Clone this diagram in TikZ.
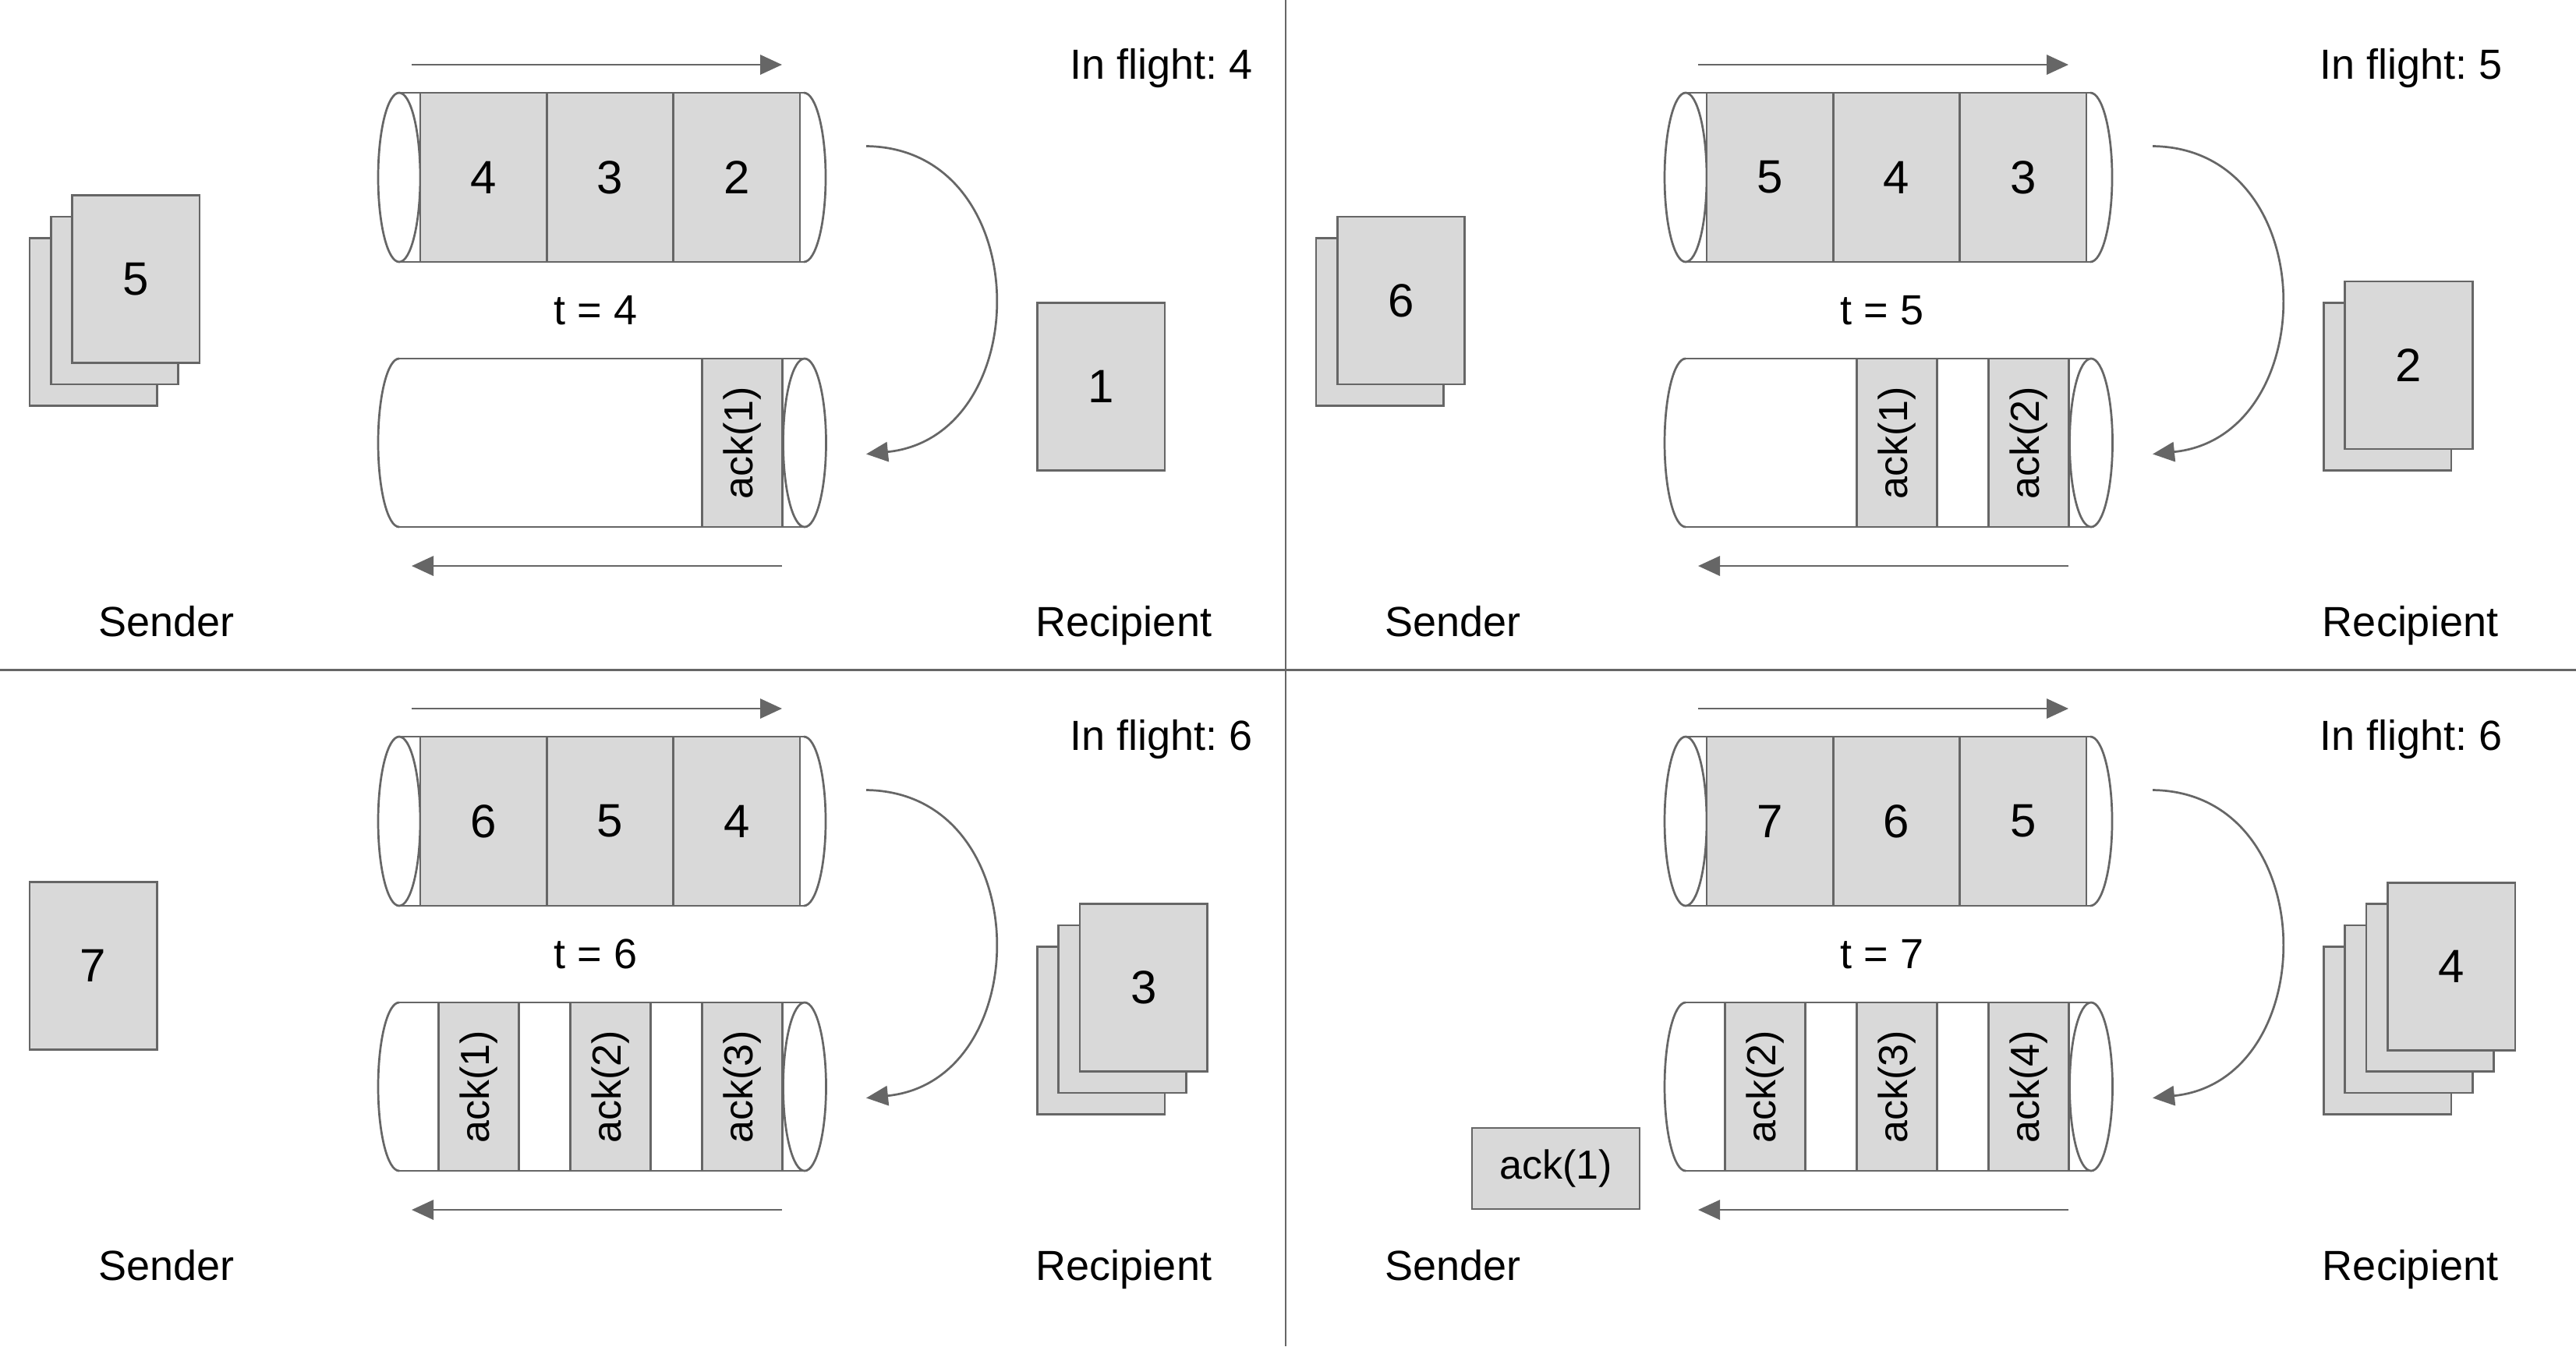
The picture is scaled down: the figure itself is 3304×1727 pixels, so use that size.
\documentclass[tikz,border=0pt]{standalone}
\usepackage{fontspec}
\setmainfont{Liberation Sans}
\frenchspacing
\usetikzlibrary{arrows.meta}
\definecolor{lineGray}{HTML}{666666}
\definecolor{fillGray}{HTML}{D9D9D9}
\tikzset{
  outl/.style={draw=lineGray, line width=0.68pt},
  flow/.style={draw=lineGray, line width=0.68pt, -{Triangle[length=7pt,width=6.3pt]}},
  sepline/.style={draw=lineGray, line width=0.68pt},
  paper/.style={outl, fill=fillGray, minimum width=40.9pt, minimum height=53.75pt, inner sep=0pt, anchor=north west, font=\fontsize{15}{18}\selectfont},
  cell/.style={outl, fill=fillGray, minimum width=40.6pt, minimum height=54.25pt, inner sep=0pt, font=\fontsize{15}{18}\selectfont},
  ackcell/.style={outl, fill=fillGray, minimum width=54pt, minimum height=25.75pt, inner sep=0pt, rotate=90, font=\fontsize{13}{16}\selectfont},
  ackout/.style={outl, fill=fillGray, minimum width=53.75pt, minimum height=26pt, inner sep=0pt, font=\fontsize{13}{16}\selectfont},
  lbl/.style={inner sep=0pt, anchor=base, font=\fontsize{13.5}{16}\selectfont},
  flightlbl/.style={inner sep=0pt, anchor=base east, font=\fontsize{13.5}{16}\selectfont},
}
\newcommand\PaperStack[5]{%
  \foreach \k in {1,...,#4}{%
    \pgfmathsetmacro\px{#2+27.3*(\k-1)}%
    \pgfmathsetmacro\py{#3-27.3*(\k-1)}%
    \ifnum\k=#4\relax
      \node[paper] (#1\k) at (\px,\py) {#5};
    \else
      \node[paper] (#1\k) at (\px,\py) {};
    \fi
  }%
}
\newcommand\PipePair[4]{%
  \coordinate (topA) at (528,83);
  \coordinate (topB) at (1003,83);
  \draw[flow] (topA) -- (topB);
  \draw[outl] (512,119) -- (1031,119);
  \draw[outl] (512,336) -- (1031,336);
  \draw[outl] (1031,119) arc[start angle=90, end angle=-90, x radius=7pt, y radius=27.125pt];
  \draw[outl, fill=white] (512,227.5) ellipse [x radius=6.75pt, y radius=27.125pt];
  \node[cell] (c1) at (620.2,227.5) {#1};
  \node[cell] (c2) at (782.5,227.5) {#2};
  \node[cell] (c3) at (944.8,227.5) {#3};
  \node[lbl] (time) at (764,416.7) {t = #4};
  \draw[outl] (512,460) arc[start angle=90, end angle=270, x radius=6.75pt, y radius=27pt];
  \draw[outl] (512,460) -- (1032,460);
  \draw[outl] (512,676) -- (1032,676);
  \coordinate (botA) at (1003,726);
  \coordinate (botB) at (528,726);
  \draw[flow] (botA) -- (botB);
  \coordinate (loopA) at (1111,187.5);
  \coordinate (loopB) at (1111,582.5);
  \draw[flow] (loopA) .. controls (1330,190) and (1330,560) .. (loopB);
  \node[lbl] (snd) at (213.3,816) {Sender};
  \node[lbl] (rcp) at (1441.5,816) {Recipient};
}
\newcommand\PipeEnd{\draw[outl, fill=white] (1032,568) ellipse [x radius=6.875pt, y radius=27pt];}
\begin{document}
\begin{tikzpicture}[x=0.25pt, y=-0.25pt]
\useasboundingbox (0,0) rectangle (3304,1727);
\fill[white] (0,0) rectangle (3304,1727);
\coordinate (hA) at (0,859.5);
\coordinate (hB) at (3304,859.5);
\coordinate (vA) at (1649,0);
\coordinate (vB) at (1649,1727);
\draw[sepline] (hA) -- (hB);
\draw[sepline] (vA) -- (vB);

\begin{scope}[name prefix=q1-]
  \PipePair{4}{3}{2}{4}
  \node[ackcell] (k1) at (952,568) {ack(1)};
  \PipeEnd
  \PaperStack{s}{36.5}{304}{3}{5}
  \PaperStack{r}{1329}{387}{1}{1}
\end{scope}

\begin{scope}[shift={(1650,0)}, name prefix=q2-]
  \PipePair{5}{4}{3}{5}
  \node[ackcell] (k1) at (783,568) {ack(1)};
  \node[ackcell] (k2) at (952,568) {ack(2)};
  \PipeEnd
  \PaperStack{s}{36.5}{304}{2}{6}
  \PaperStack{r}{1329}{387}{2}{2}
\end{scope}

\begin{scope}[shift={(0,826)}, name prefix=q3-]
  \PipePair{6}{5}{4}{6}
  \node[ackcell] (k1) at (614,568) {ack(1)};
  \node[ackcell] (k2) at (783,568) {ack(2)};
  \node[ackcell] (k3) at (952,568) {ack(3)};
  \PipeEnd
  \PaperStack{s}{36.5}{304}{1}{7}
  \PaperStack{r}{1329}{387}{3}{3}
\end{scope}

\begin{scope}[shift={(1650,826)}, name prefix=q4-]
  \PipePair{7}{6}{5}{7}
  \node[ackcell] (k2) at (614,568) {ack(2)};
  \node[ackcell] (k3) at (783,568) {ack(3)};
  \node[ackcell] (k4) at (952,568) {ack(4)};
  \PipeEnd
  \node[ackout] (k1) at (345.5,673) {ack(1)};
  \PaperStack{r}{1329}{387}{4}{4}
\end{scope}

\node[flightlbl] (f1) at (1607,101) {In flight: 4};
\node[flightlbl] (f2) at (3210,101) {In flight: 5};
\node[flightlbl] (f3) at (1607,962) {In flight: 6};
\node[flightlbl] (f4) at (3210,962) {In flight: 6};
\end{tikzpicture}
\end{document}
